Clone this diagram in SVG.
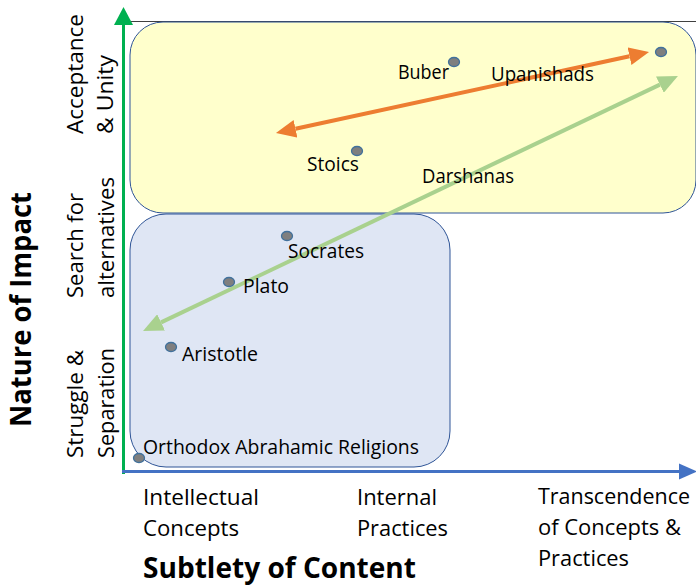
<svg xmlns="http://www.w3.org/2000/svg" width="696" height="586" viewBox="0 0 696 586">
<style>
text{font-family:"Open Sans","Liberation Sans",sans-serif;fill:#000}
.lbl{font-size:19.5px}
.ax{font-size:21.5px}
.ttl{font-size:28px;font-weight:bold}
.dot{fill:#7f7f7f;stroke:#41719c;stroke-width:1.3}
</style>
<defs>
<marker id="hO" markerUnits="userSpaceOnUse" markerWidth="20" markerHeight="18" refX="0" refY="9" orient="auto-start-reverse"><path d="M0,0 L20,9 L0,18 Z" fill="#ed7d31"/></marker>
<marker id="hG" markerUnits="userSpaceOnUse" markerWidth="20" markerHeight="18" refX="0" refY="9" orient="auto-start-reverse"><path d="M0,0 L20,9 L0,18 Z" fill="#a9d18e"/></marker>
</defs>
<rect width="696" height="586" fill="#fff"/>
<line x1="130" y1="21.5" x2="696" y2="21.5" stroke="#404040" stroke-width="1"/>
<g id="zone-acceptance"><rect x="130" y="22" width="566" height="191" rx="33" ry="33" fill="#ffffcc" stroke="#2f5597" stroke-width="1"/></g>
<g id="zone-struggle"><rect x="130" y="214" width="320" height="253" rx="36" ry="36" fill="#dfe6f4" stroke="#2f5597" stroke-width="1"/></g>
<g id="axes">
<line x1="123.5" y1="474" x2="123.5" y2="24" stroke="#00b050" stroke-width="3"/>
<polygon points="123.5,7 114,25 133,25" fill="#00b050"/>
<line x1="122" y1="471.5" x2="679" y2="471.5" stroke="#4472c4" stroke-width="3"/>
<polygon points="697,471.5 679,463.5 679,479.5" fill="#4472c4"/>
</g>
<g id="connectors">
<line x1="295.5" y1="128.8" x2="629.5" y2="56.2" stroke="#ed7d31" stroke-width="4" marker-start="url(#hO)" marker-end="url(#hO)"/>
<line x1="161.1" y1="322.4" x2="659.9" y2="84.6" stroke="#a9d18e" stroke-width="4" marker-start="url(#hG)" marker-end="url(#hG)"/>
</g>
<g id="buber"><ellipse class="dot" cx="454" cy="62" rx="5.5" ry="4.5"/><text class="lbl" x="398" y="79" textLength="51" lengthAdjust="spacingAndGlyphs">Buber</text></g>
<g id="upanishads"><ellipse class="dot" cx="661" cy="52" rx="5.5" ry="4.5"/><text class="lbl" x="491" y="81" textLength="103" lengthAdjust="spacingAndGlyphs">Upanishads</text></g>
<g id="stoics"><ellipse class="dot" cx="357" cy="151" rx="5.5" ry="4.5"/><text class="lbl" x="307" y="171" textLength="52" lengthAdjust="spacingAndGlyphs">Stoics</text></g>
<g id="darshanas"><text class="lbl" x="422" y="183" textLength="92" lengthAdjust="spacingAndGlyphs">Darshanas</text></g>
<g id="socrates"><ellipse class="dot" cx="287" cy="236" rx="5.5" ry="4.5"/><text class="lbl" x="288" y="258" textLength="76" lengthAdjust="spacingAndGlyphs">Socrates</text></g>
<g id="plato"><ellipse class="dot" cx="229" cy="282" rx="5.5" ry="4.5"/><text class="lbl" x="243" y="293" textLength="46" lengthAdjust="spacingAndGlyphs">Plato</text></g>
<g id="aristotle"><ellipse class="dot" cx="171" cy="347" rx="5.5" ry="4.5"/><text class="lbl" x="182" y="361" textLength="76" lengthAdjust="spacingAndGlyphs">Aristotle</text></g>
<g id="orthodox"><ellipse class="dot" cx="139" cy="458" rx="5.5" ry="4.5"/><text class="lbl" x="143" y="454" textLength="276" lengthAdjust="spacingAndGlyphs">Orthodox  Abrahamic Religions</text></g>
<g id="x-labels">
<text class="ax" x="143" y="505" textLength="116" lengthAdjust="spacingAndGlyphs">Intellectual</text>
<text class="ax" x="143" y="536" textLength="96" lengthAdjust="spacingAndGlyphs">Concepts</text>
<text class="ax" x="357" y="505" textLength="80" lengthAdjust="spacingAndGlyphs">Internal</text>
<text class="ax" x="357" y="536" textLength="91" lengthAdjust="spacingAndGlyphs">Practices</text>
<text class="ax" x="538" y="504" textLength="152" lengthAdjust="spacingAndGlyphs">Transcendence</text>
<text class="ax" x="538" y="535" textLength="143" lengthAdjust="spacingAndGlyphs">of Concepts &amp;</text>
<text class="ax" x="538" y="566" textLength="91" lengthAdjust="spacingAndGlyphs">Practices</text>
<text class="ttl" x="143" y="578" textLength="273" lengthAdjust="spacingAndGlyphs">Subtlety of Content</text>
</g>
<g id="y-labels">
<text class="ax" transform="translate(83,134) rotate(-90)" textLength="120" lengthAdjust="spacingAndGlyphs">Acceptance</text>
<text class="ax" transform="translate(113,134) rotate(-90)" textLength="79" lengthAdjust="spacingAndGlyphs">&amp; Unity</text>
<text class="ax" transform="translate(83,298) rotate(-90)" textLength="105" lengthAdjust="spacingAndGlyphs">Search for</text>
<text class="ax" transform="translate(114,298) rotate(-90)" textLength="121" lengthAdjust="spacingAndGlyphs">alternatives</text>
<text class="ax" transform="translate(83,458) rotate(-90)" textLength="108" lengthAdjust="spacingAndGlyphs">Struggle &amp;</text>
<text class="ax" transform="translate(114,458) rotate(-90)" textLength="110" lengthAdjust="spacingAndGlyphs">Separation</text>
<text class="ttl" transform="translate(31,427) rotate(-90)" textLength="235" lengthAdjust="spacingAndGlyphs">Nature of Impact</text>
</g>
</svg>
